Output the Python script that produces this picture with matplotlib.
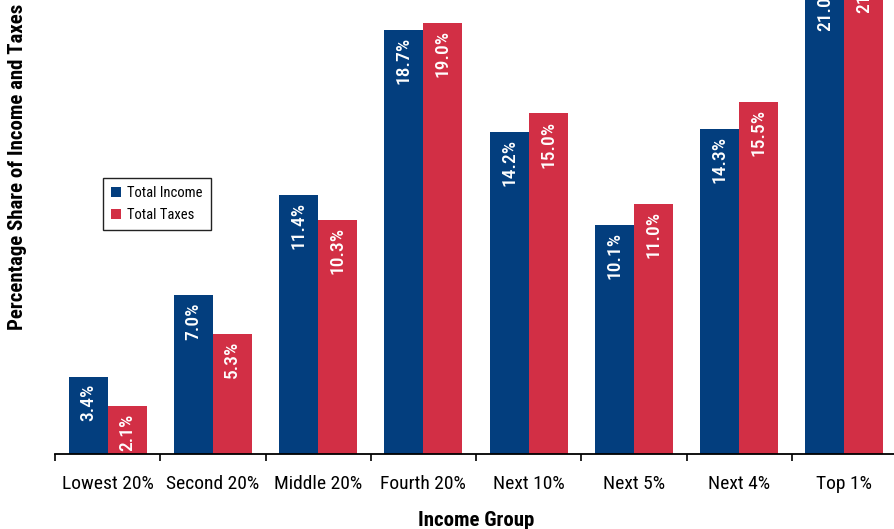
import numpy as np
import matplotlib
matplotlib.use("Agg")
from matplotlib import pyplot as plt
from matplotlib.ticker import FixedLocator

plt.rcParams['font.family'] = ['Roboto Condensed', 'Archivo Narrow', 'DejaVu Sans']

# --- Data --------------------------------------------------------------------

groups = ["Lowest 20%", "Second 20%", "Middle 20%", "Fourth 20%",
          "Next 10%", "Next 5%", "Next 4%", "Top 1%"]
income = [3.4, 7.0, 11.4, 18.7, 14.2, 10.1, 14.3, 21.0]
taxes = [2.1, 5.3, 10.3, 19.0, 15.0, 11.0, 15.5, 21.8]

blue = '#033e7e'
red = '#d22f45'

# --- Figure ------------------------------------------------------------------

fig = plt.figure(figsize=(8.95, 5.29), dpi=100)
ax = fig.add_axes([55 / 895, 75 / 529, 842 / 895, 454 / 529])

x = np.arange(len(groups))
w = 0.37
b1 = ax.bar(x - w / 2, income, w, color=blue, label="Total Income")
b2 = ax.bar(x + w / 2, taxes, w, color=red, label="Total Taxes")

# value labels inside the bars, rotated, near the top
for bars, vals in ((b1, income), (b2, taxes)):
    for bar, v in zip(bars, vals):
        ax.annotate(f"{v:.1f}%", (bar.get_x() + bar.get_width() / 2, v),
                    xytext=(0, -5), textcoords='offset points',
                    ha='center', va='top', rotation=90,
                    color='white', fontsize=14, fontweight='medium',
                    annotation_clip=False)

ax.set_xlim(-0.5, 7.5)
ax.set_ylim(0, 20.0)

for s in ('top', 'right', 'left'):
    ax.spines[s].set_visible(False)
ax.spines['bottom'].set_linewidth(1.3)

ax.set_yticks([])
ax.set_xticks(x)
ax.set_xticklabels(groups, fontsize=14)
ax.tick_params(axis='x', which='major', length=0, pad=15)
ax.xaxis.set_minor_locator(FixedLocator(np.arange(-0.5, 8, 1.0)))
ax.tick_params(axis='x', which='minor', length=5, width=1.2, direction='out')

ax.set_xlabel("Income Group", fontsize=15, fontweight='bold', labelpad=13)
fig.text(18 / 895, 1 - 167 / 529, "Percentage Share of Income and Taxes",
         rotation=90, ha='center', va='center', fontsize=15, fontweight='bold')

leg = ax.legend(loc='upper left', bbox_to_anchor=(0.057, 0.608),
                borderaxespad=0, fontsize=10.5, fancybox=False,
                handlelength=0.7, handleheight=0.7, handletextpad=0.4,
                borderpad=0.55, labelspacing=0.55, framealpha=1)
leg.get_frame().set_edgecolor('#222222')
leg.get_frame().set_linewidth(1.0)

fig.savefig("out.png", dpi=100)
